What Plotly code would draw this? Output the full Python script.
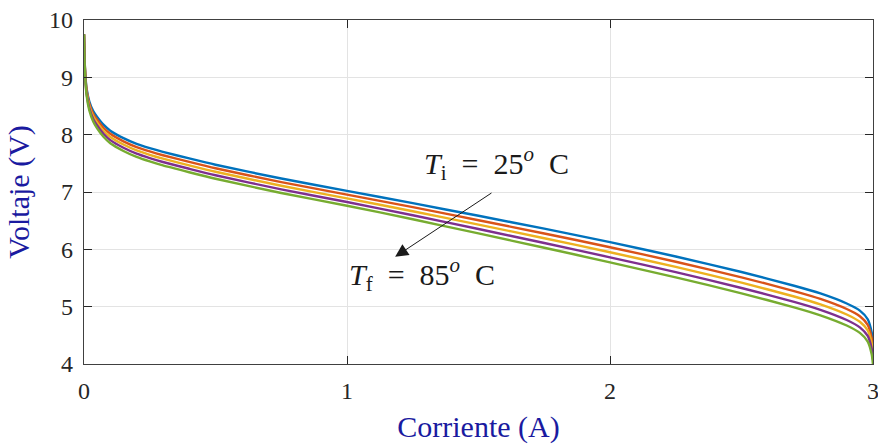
import plotly.graph_objects as go

corriente = [0, 0.002, 0.005, 0.01, 0.02, 0.035, 0.05, 0.075, 0.1, 0.15, 0.2, 0.25, 0.3, 0.4, 0.5,
             0.75, 1.0, 1.25, 1.5, 1.75, 2.0, 2.25, 2.5, 2.7, 2.8, 2.9, 2.95, 2.98, 2.995, 3.0]

v_blue = [9.75, 9.35, 9.05, 8.80, 8.58, 8.41, 8.31, 8.17, 8.07, 7.94, 7.84, 7.765, 7.70, 7.585, 7.475,
          7.235, 7.02, 6.805, 6.585, 6.36, 6.125, 5.875, 5.605, 5.365, 5.23, 5.055, 4.93, 4.78, 4.55, 4.35]
v_orange = [9.75, 9.34, 9.03, 8.77, 8.542, 8.365, 8.26, 8.117, 8.015, 7.884, 7.783, 7.707, 7.641, 7.525, 7.414,
            7.172, 6.955, 6.735, 6.508, 6.277, 6.037, 5.784, 5.512, 5.271, 5.135, 4.959, 4.833, 4.683, 4.455, 4.26]
v_yellow = [9.75, 9.33, 9.01, 8.74, 8.504, 8.32, 8.21, 8.064, 7.96, 7.828, 7.726, 7.649, 7.582, 7.465, 7.353,
            7.109, 6.89, 6.665, 6.431, 6.194, 5.949, 5.693, 5.419, 5.177, 5.04, 4.863, 4.736, 4.586, 4.36, 4.17]
v_purple = [9.75, 9.32, 8.99, 8.71, 8.466, 8.275, 8.16, 8.011, 7.905, 7.772, 7.669, 7.591, 7.523, 7.405, 7.292,
            7.046, 6.825, 6.595, 6.354, 6.111, 5.861, 5.602, 5.326, 5.083, 4.945, 4.767, 4.639, 4.489, 4.265, 4.08]
v_green = [9.75, 9.31, 8.97, 8.68, 8.428, 8.23, 8.11, 7.958, 7.85, 7.716, 7.612, 7.533, 7.464, 7.345, 7.231,
           6.983, 6.76, 6.525, 6.277, 6.028, 5.773, 5.511, 5.233, 4.989, 4.85, 4.671, 4.542, 4.392, 4.17, 3.99]

series = [v_blue, v_orange, v_yellow, v_purple, v_green]
colors = ["#0072BD", "#D95319", "#EDB120", "#7E2F8E", "#77AC30"]

x_ticks = [0, 1, 2, 3]
y_ticks = [4, 5, 6, 7, 8, 9, 10]

fig = go.Figure()
for v, c in zip(series, colors):
    fig.add_trace(go.Scatter(x=corriente, y=v, mode="lines",
                             line=dict(color=c, width=2.4, shape="spline", smoothing=0.6),
                             showlegend=False, hoverinfo="skip"))

serif = "Liberation Serif"
tickfont = dict(family=serif, size=24, color="#262626")
axis_common = dict(showline=True, linecolor="#404040", linewidth=1.3, mirror="ticks",
                   ticks="inside", ticklen=8, tickcolor="#262626", tickwidth=1.2,
                   showgrid=True, gridcolor="#e3e3e3", gridwidth=1, zeroline=False,
                   ticklabeloverflow="allow", automargin=False, ticklabelstandoff=5)

fig.update_layout(
    template="none",
    xaxis=dict(range=[0, 3], tickmode="array", tickvals=x_ticks, ticktext=[str(t) for t in x_ticks],
               tickfont=tickfont,
               title=dict(text="Corriente (A)", font=dict(family=serif, size=30, color="#1a1aa0"),
                          standoff=20),
               **axis_common),
    yaxis=dict(range=[4, 10], tickmode="array", tickvals=y_ticks, ticktext=[str(t) for t in y_ticks],
               tickfont=tickfont,
               title=dict(text="Voltaje (V)", font=dict(family=serif, size=30, color="#1a1aa0"),
                          standoff=10),
               **axis_common),
    font=dict(family=serif, size=24, color="#262626"),
)

fig.add_annotation(x=1.183, y=5.87, ax=1.555, ay=7.0, axref="x", ayref="y", xref="x", yref="y",
                   text="", showarrow=True, arrowhead=2, arrowsize=2.6, arrowwidth=1,
                   arrowcolor="#1a1a1a")
fig.add_annotation(x=1.567, y=7.5, xref="x", yref="y", showarrow=False,
                   text="<i>T</i><sub>i</sub>&nbsp;&nbsp;=&nbsp;&nbsp;25<sup><i>o</i></sup>&nbsp;&nbsp;C",
                   font=dict(family=serif, size=30, color="#1a1a1a"))
fig.add_annotation(x=1.285, y=5.56, xref="x", yref="y", showarrow=False,
                   text="<i>T</i><sub>f</sub>&nbsp;&nbsp;=&nbsp;&nbsp;85<sup><i>o</i></sup>&nbsp;&nbsp;C",
                   font=dict(family=serif, size=30, color="#1a1a1a"))

fig.update_layout(width=878, height=444, margin=dict(l=84, r=5, t=20, b=80),
                  plot_bgcolor="white", paper_bgcolor="white")

fig.write_html("out.html")
